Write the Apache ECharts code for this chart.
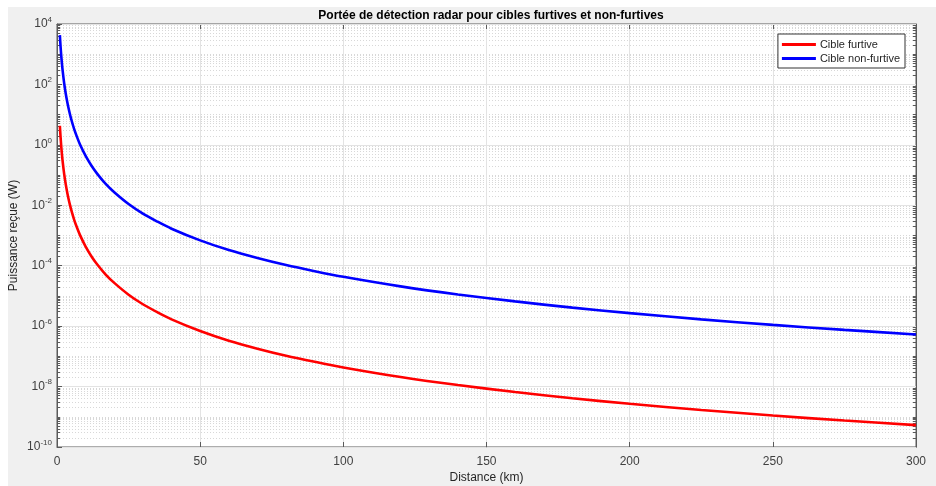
<!DOCTYPE html>
<html>
<head>
<meta charset="utf-8">
<script src="https://cdn.jsdelivr.net/npm/echarts@6/dist/echarts.min.js"></script>
<style>
html,body{margin:0;padding:0;background:#fff;}
#c{width:936px;height:486px;background:#f0f0f0;box-shadow:inset 8px 7px 0 #fff;}
</style>
</head>
<body>
<div id="c"></div>
<script>
// Distances (km)
const distances = [1, 1.25, 1.5, 1.75, 2, 2.5, 3, 3.5, 4, 4.5, 5, 6, 7, 8, 10, 12, 14, 17, 20, 25, 30, 35, 40, 50, 60, 70, 80, 90, 100, 120, 140, 160, 180, 200, 225, 250, 275, 300];
// Received power, stealth target (W)
const stealthPower = [4.3, 1.76, 0.85, 0.458, 0.27, 0.11, 0.053, 0.0287, 0.0168, 0.0105, 0.0069, 0.0033, 0.0018, 0.00105, 4.3e-4, 2.07e-4, 1.12e-4, 5.1e-5, 2.7e-5, 1.1e-5, 5.3e-6, 2.9e-6, 1.68e-6, 6.9e-7, 3.3e-7, 1.8e-7, 1.05e-7, 6.6e-8, 4.3e-8, 2.07e-8, 1.12e-8, 6.6e-9, 4.1e-9, 2.7e-9, 1.68e-9, 1.1e-9, 7.5e-10, 5.3e-10];
// Received power, non-stealth target (W)
const normalPower = [4300, 1760, 850, 458, 270, 110, 53, 28.7, 16.8, 10.5, 6.9, 3.3, 1.8, 1.05, 0.43, 0.207, 0.112, 0.051, 0.027, 0.011, 0.0053, 0.0029, 0.00168, 6.9e-4, 3.3e-4, 1.8e-4, 1.05e-4, 6.6e-5, 4.3e-5, 2.07e-5, 1.12e-5, 6.6e-6, 4.1e-6, 2.7e-6, 1.68e-6, 1.1e-6, 7.5e-7, 5.3e-7];
const seriesNames = ['Cible furtive', 'Cible non-furtive'];
const xTicks = [0, 50, 100, 150, 200, 250, 300];
const yExpMin = -10, yExpMax = 4;

// minor tick positions for MATLAB-like log grid
const minorVals = [];
for (let k = yExpMin; k < yExpMax; k++) {
  if (k % 2 !== 0) minorVals.push(Math.pow(10, k));
  for (let m = 2; m <= 9; m++) minorVals.push(m * Math.pow(10, k));
}
if (yExpMax % 2 !== 0) minorVals.push(Math.pow(10, yExpMax));

const axisColor = '#5a5a5a';
const labelColor = '#404040';
const font = 'Liberation Sans, Arial, sans-serif';

function pairs(ys){ return distances.map((d,i)=>[d, ys[i]]); }

function expLabel(v){
  const e = Math.round(Math.log10(v));
  return '{b|10}{s|' + e + '}';
}

const yMin = Math.pow(10, yExpMin), yMax = Math.pow(10, yExpMax);

const chart = echarts.init(document.getElementById('c'), null, {renderer:'canvas'});
chart.setOption({
  backgroundColor: 'transparent',
  animation: false,
  textStyle: {fontFamily: font},
  title: {
    text: 'Portée de détection radar pour cibles furtives et non-furtives',
    left: 486, top: 5, textAlign: 'center',
    textStyle: {fontSize: 12, fontWeight: 'bold', color: '#000', fontFamily: font}
  },
  legend: {
    data: seriesNames.map(n=>({name:n, icon:'rect'})),
    orient: 'vertical',
    right: 31, top: 34,
    itemWidth: 34, itemHeight: 3, itemGap: 3,
    padding: [5, 5, 4, 4],
    backgroundColor: '#fff',
    borderColor: '#333', borderWidth: 1, borderRadius: 0,
    textStyle: {fontSize: 11, color: '#262626', fontFamily: font, padding: [0,0,0,-1]}
  },
  grid: {
    left: 57, right: 20, top: 24, bottom: 39,
    outerBoundsMode: 'none', containLabel: false,
    show: true, backgroundColor: '#fff', borderColor: axisColor, borderWidth: 1
  },
  xAxis: [{
    type: 'value', min: xTicks[0], max: xTicks[xTicks.length-1], interval: 50,
    name: 'Distance (km)', nameLocation: 'middle', nameGap: 25, nameMoveOverlap: false,
    nameTextStyle: {fontSize: 12, color: '#262626', fontFamily: font},
    axisLine: {show: true, lineStyle: {color: axisColor}},
    axisTick: {show: true, inside: true, length: 5, lineStyle: {color: axisColor}},
    axisLabel: {fontSize: 12, color: labelColor, margin: 9, fontFamily: font},
    splitLine: {show: true, lineStyle: {color: '#e3e3e3', width: 1}}
  }, {
    type: 'value', position: 'top', min: xTicks[0], max: xTicks[xTicks.length-1], interval: 50,
    axisLine: {show: true, lineStyle: {color: axisColor}},
    axisTick: {show: true, inside: true, length: 5, lineStyle: {color: axisColor}},
    axisLabel: {show: false}, splitLine: {show: false}
  }],
  yAxis: [{
    type: 'log', logBase: 10, min: yMin, max: yMax, interval: 2,
    name: 'Puissance reçue (W)', nameLocation: 'middle', nameGap: 37, nameMoveOverlap: false,
    nameTextStyle: {fontSize: 12, color: '#262626', fontFamily: font},
    axisLine: {show: true, lineStyle: {color: axisColor}},
    axisTick: {show: true, inside: true, length: 5, lineStyle: {color: axisColor}},
    axisLabel: {
      margin: 5, color: labelColor, formatter: expLabel,
      rich: {
        b: {fontSize: 12, color: labelColor, fontFamily: font},
        s: {fontSize: 8, color: labelColor, fontFamily: font, padding: [0, 0, 9, 0]}
      }
    },
    splitLine: {show: true, lineStyle: {color: '#e3e3e3', width: 1}},
    z: 3
  }, {
    type: 'log', logBase: 10, min: yMin, max: yMax, position: 'left',
    axisLine: {show: false},
    axisTick: {show: true, inside: true, length: 3, customValues: minorVals, lineStyle: {color: axisColor}},
    axisLabel: {show: false},
    splitLine: {show: true, lineStyle: {color: '#d8d8d8', width: 1, type: [1, 2]}}
  }, {
    type: 'log', logBase: 10, min: yMin, max: yMax, interval: 2, position: 'right',
    axisLine: {show: true, lineStyle: {color: axisColor}},
    axisTick: {show: true, inside: true, length: 5, lineStyle: {color: axisColor}},
    axisLabel: {show: false}, splitLine: {show: false}
  }, {
    type: 'log', logBase: 10, min: yMin, max: yMax, position: 'right',
    axisLine: {show: false},
    axisTick: {show: true, inside: true, length: 3, customValues: minorVals, lineStyle: {color: axisColor}},
    axisLabel: {show: false}, splitLine: {show: false}
  }],
  series: [{
    name: seriesNames[0], type: 'line', data: pairs(stealthPower),
    xAxisIndex: 0, yAxisIndex: 0,
    showSymbol: false, smooth: 0.3, clip: true,
    lineStyle: {color: '#ff0000', width: 2.6}, itemStyle: {color: '#ff0000'}, z: 5
  }, {
    name: seriesNames[1], type: 'line', data: pairs(normalPower),
    xAxisIndex: 0, yAxisIndex: 0,
    showSymbol: false, smooth: 0.3, clip: true,
    lineStyle: {color: '#0000ff', width: 2.6}, itemStyle: {color: '#0000ff'}, z: 5
  }]
});
</script>
</body>
</html>
